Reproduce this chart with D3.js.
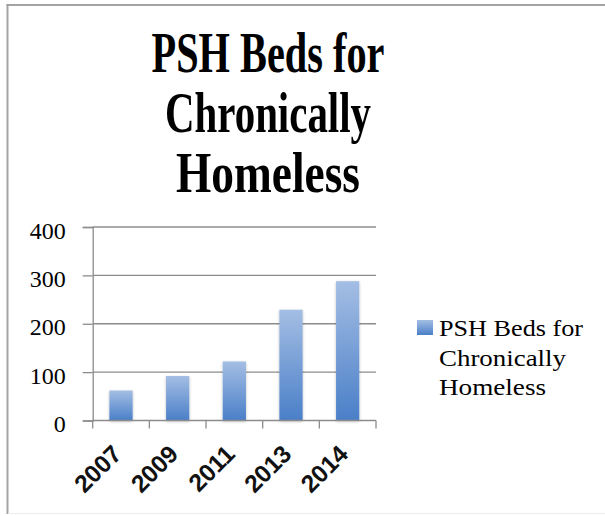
<!DOCTYPE html>
<html>
<head>
<meta charset="utf-8">
<script src="https://cdn.jsdelivr.net/npm/d3@7"></script>
<style>
  html, body { margin: 0; padding: 0; background: #fff; }
  svg { display: block; }
</style>
</head>
<body>
<svg id="chart" width="605" height="516"></svg>
<script>
// Chart data
const categories = ["2007", "2009", "2011", "2013", "2014"];
const values = [62, 92, 122, 229, 288];
const yTicks = [0, 100, 200, 300, 400];
const seriesName = "PSH Beds for Chronically Homeless";
const titleLines = ["PSH Beds for", "Chronically", "Homeless"];
const legendLines = ["PSH Beds for", "Chronically", "Homeless"];

const svg = d3.select("#chart");

// Gradient used by bars and legend swatch
const defs = svg.append("defs");
const grad = defs.append("linearGradient")
  .attr("id", "barGrad").attr("x1", 0).attr("y1", 0).attr("x2", 0).attr("y2", 1);
grad.append("stop").attr("offset", "0%").attr("stop-color", "#a4bee4");
grad.append("stop").attr("offset", "100%").attr("stop-color", "#4a7fc8");

const shadow = defs.append("filter").attr("id", "soft")
  .attr("x", "-30%").attr("y", "-10%").attr("width", "160%").attr("height", "120%");
shadow.append("feGaussianBlur").attr("in", "SourceAlpha").attr("stdDeviation", 1.5).attr("result", "b");
shadow.append("feOffset").attr("in", "b").attr("dx", 0).attr("dy", 1).attr("result", "o");
shadow.append("feComponentTransfer").attr("in", "o").attr("result", "s")
  .append("feFuncA").attr("type", "linear").attr("slope", 0.25);
const merge = shadow.append("feMerge");
merge.append("feMergeNode").attr("in", "s");
merge.append("feMergeNode").attr("in", "SourceGraphic");

// Outer frame
svg.append("line").attr("x1", 7.5).attr("x2", 7.5).attr("y1", 4).attr("y2", 514)
  .attr("stroke", "#a3a3a3").attr("stroke-width", 2);
svg.append("line").attr("x1", 6.5).attr("x2", 605).attr("y1", 5).attr("y2", 5)
  .attr("stroke", "#a3a3a3").attr("stroke-width", 2);
svg.append("line").attr("x1", 8).attr("x2", 605).attr("y1", 513.5).attr("y2", 513.5)
  .attr("stroke", "#ececec").attr("stroke-width", 1);

// Title
const title = svg.append("g");
const titleWidths = [233, 206, 184];
titleLines.forEach((t, i) => {
  title.append("text")
    .attr("x", 268 - titleWidths[i] / 2)
    .attr("y", 72 + i * 60)
    .attr("font-family", "'Liberation Serif', serif")
    .attr("font-weight", "bold")
    .attr("font-size", 57)
    .attr("textLength", titleWidths[i])
    .attr("lengthAdjust", "spacingAndGlyphs")
    .attr("fill", "#000")
    .text(t);
});

// Plot area
const plot = { left: 92.7, right: 376, top: 227, bottom: 420.5 };

const x = d3.scaleBand().domain(categories).range([plot.left, plot.right])
  .paddingInner(0.59).paddingOuter(0.295);
const xCat = d3.scaleBand().domain(categories).range([plot.left, plot.right]).padding(0);
const y = d3.scaleLinear().domain([0, 400]).range([plot.bottom, plot.top]);

// Gridlines
svg.append("g").selectAll("line").data(yTicks.slice(1)).join("line")
  .attr("x1", plot.left).attr("x2", plot.right)
  .attr("y1", d => y(d)).attr("y2", d => y(d))
  .attr("stroke", "#8c8c8c").attr("stroke-width", 1.3);

// Y axis
const yAxis = svg.append("g")
  .attr("transform", `translate(${plot.left},0)`)
  .call(d3.axisLeft(y).tickValues(yTicks).tickSize(10).tickPadding(17).tickFormat(d3.format("d")));
yAxis.select(".domain").attr("stroke", "#8c8c8c").attr("stroke-width", 1.3);
yAxis.selectAll(".tick line").attr("stroke", "#8c8c8c").attr("stroke-width", 1.3);
yAxis.selectAll(".tick text")
  .attr("font-family", "'Liberation Serif', serif")
  .attr("font-size", 24)
  .attr("fill", "#000")
  .attr("dy", "0.46em");

// Bars
svg.append("g").selectAll("rect").data(values).join("rect")
  .attr("x", (d, i) => x(categories[i]))
  .attr("width", x.bandwidth())
  .attr("y", d => y(d))
  .attr("height", d => y(0) - y(d))
  .attr("fill", "url(#barGrad)")
  .attr("filter", "url(#soft)");

// X axis: ticks at category boundaries
const xAxisG = svg.append("g");
xAxisG.append("line")
  .attr("x1", plot.left).attr("x2", plot.right)
  .attr("y1", y(0)).attr("y2", y(0))
  .attr("stroke", "#8c8c8c").attr("stroke-width", 1.3);
const boundaries = categories.map(c => xCat(c)).concat([plot.right]);
xAxisG.selectAll("line.tk").data(boundaries).join("line")
  .attr("class", "tk")
  .attr("x1", d => d).attr("x2", d => d)
  .attr("y1", y(0)).attr("y2", y(0) + 8)
  .attr("stroke", "#8c8c8c").attr("stroke-width", 1.3);

// Rotated category labels
xAxisG.selectAll("text").data(categories).join("text")
  .attr("transform", d => `translate(${xCat(d) + xCat.bandwidth() / 2 + 2},${y(0) + 35}) rotate(-45)`)
  .attr("text-anchor", "end")
  .attr("font-family", "'Liberation Sans', Arial, sans-serif")
  .attr("font-weight", "bold")
  .attr("font-size", 24.5)
  .attr("fill", "#111")
  .text(d => d);

// Legend
const legend = svg.append("g").attr("aria-label", seriesName);
legend.append("rect")
  .attr("x", 417).attr("y", 320).attr("width", 16).attr("height", 15)
  .attr("fill", "url(#barGrad)");
const legendWidths = [144, 127, 107];
legendLines.forEach((t, i) => {
  legend.append("text")
    .attr("x", 439).attr("y", 336 + i * 29.5)
    .attr("font-family", "'Liberation Serif', serif")
    .attr("font-size", 24)
    .attr("textLength", legendWidths[i])
    .attr("lengthAdjust", "spacingAndGlyphs")
    .attr("fill", "#000")
    .text(t);
});
</script>
</body>
</html>
